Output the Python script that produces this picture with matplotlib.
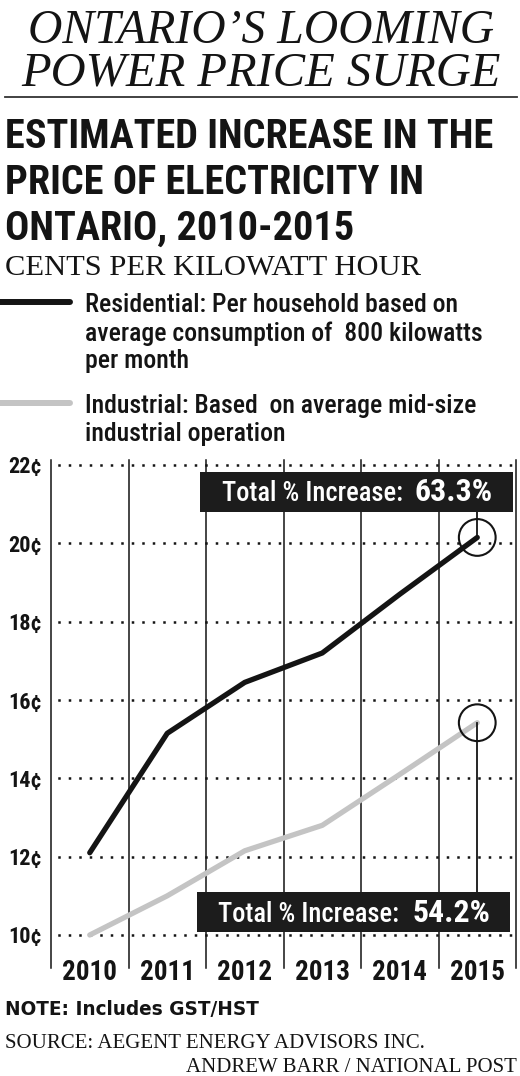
import matplotlib
matplotlib.use('Agg')
import matplotlib.pyplot as plt
from matplotlib import font_manager as fm
from matplotlib import transforms as mtrans
from matplotlib.patches import Rectangle
from matplotlib.lines import Line2D

# ---------------- data ----------------
years = ['2010', '2011', '2012', '2013', '2014', '2015']
residential = [12.1, 15.15, 16.45, 17.2, 18.7, 20.15]
industrial = [10.0, 11.0, 12.15, 12.8, 14.1, 15.42]
y_ticks = [10, 12, 14, 16, 18, 20, 22]
y_tick_labels = ['10¢', '12¢', '14¢', '16¢', '18¢', '20¢', '22¢']
res_increase = '63.3%'
ind_increase = '54.2%'

title_lines = ['ONTARIO’S LOOMING', 'POWER PRICE SURGE']
subtitle_lines = ['ESTIMATED INCREASE IN THE', 'PRICE OF ELECTRICITY IN', 'ONTARIO, 2010-2015']
unit_label = 'CENTS PER KILOWATT HOUR'
res_legend = ['Residential: Per household based on',
              'average consumption of  800 kilowatts',
              'per month']
ind_legend = ['Industrial: Based  on average mid-size',
              'industrial operation']
note_text = 'NOTE: Includes GST/HST'
source_text = 'SOURCE: AEGENT ENERGY ADVISORS INC.'
credit_text = 'ANDREW BARR / NATIONAL POST'

# ---------------- fonts ----------------
entries = fm.fontManager.ttflist
names = set(e.name for e in entries)
cond = None
cond_stretch = 'normal'
for c in ['Roboto Condensed', 'Liberation Sans Narrow', 'Open Sans Condensed',
          'Noto Sans Condensed', 'Noto Sans SemiCondensed', 'DejaVu Sans Condensed']:
    if c in names:
        cond = c
        break
if cond is None:
    for e in entries:
        if e.name in ('Noto Sans', 'DejaVu Sans', 'Open Sans', 'Roboto') and str(e.stretch) in ('condensed', 'semi-condensed'):
            cond = e.name
            cond_stretch = 'condensed'
            break
if cond is None:
    cond = 'Liberation Sans'
SERIF = 'Liberation Serif' if 'Liberation Serif' in names else 'DejaVu Serif'
COND = [cond, 'DejaVu Sans']

W, H = 520, 1076
fig = plt.figure(figsize=(W / 100, H / 100), dpi=100)
fig.patch.set_facecolor('white')
renderer = fig.canvas.get_renderer()
INK = '#141414'


def fx(x):
    return x / W


def fy(y):
    return 1 - y / H


def ptext(x, y, s, ha='left', va='baseline', **kw):
    return fig.text(fx(x), fy(y), s, ha=ha, va=va, color=kw.pop('color', INK), **kw)


def fit(t, width):
    t.set_fontsize(20)
    w = t.get_window_extent(renderer).width
    t.set_fontsize(20 * width / w)
    return t.get_fontsize()


# ---------------- header ----------------
t = ptext(261, 43, title_lines[0], ha='center', family=SERIF, style='italic')
fit(t, 466)
t = ptext(261, 85, title_lines[1], ha='center', family=SERIF, style='italic')
fit(t, 480)
fig.add_artist(Line2D([fx(5), fx(517)], [fy(97), fy(97)], transform=fig.transFigure,
                      lw=1.3, color='#333333'))

t = ptext(5, 148, subtitle_lines[0], family=COND, weight='bold', fontstretch=cond_stretch)
fs = fit(t, 490)
for i, s in enumerate(subtitle_lines[1:]):
    ptext(5, 194 + 46 * i, s, family=COND, weight='bold', fontstretch=cond_stretch, fontsize=fs)

t = ptext(5, 275, unit_label, family=SERIF)
fit(t, 415)

# legend
fig.add_artist(Line2D([fx(0), fx(70)], [fy(302), fy(302)], transform=fig.transFigure,
                      lw=4.3, color=INK, solid_capstyle='round'))
fig.add_artist(Line2D([fx(0), fx(70)], [fy(403), fy(403)], transform=fig.transFigure,
                      lw=4.3, color='#c4c4c4', solid_capstyle='round'))
LW = 'medium'
t = ptext(85, 341, res_legend[1], family=COND, weight=LW, fontstretch=cond_stretch)
lfs = fit(t, 398)
ptext(85, 312, res_legend[0], family=COND, weight=LW, fontstretch=cond_stretch, fontsize=lfs)
ptext(85, 368, res_legend[2], family=COND, weight=LW, fontstretch=cond_stretch, fontsize=lfs)
ptext(85, 413, ind_legend[0], family=COND, weight=LW, fontstretch=cond_stretch, fontsize=lfs)
ptext(85, 441, ind_legend[1], family=COND, weight=LW, fontstretch=cond_stretch, fontsize=lfs)

# ---------------- chart ----------------
ax_left, ax_right, ax_top, ax_bottom = 51, 516, 460, 968
ax = fig.add_axes([fx(ax_left), fy(ax_bottom), (ax_right - ax_left) / W, (ax_bottom - ax_top) / H])
ax.set_xlim(-0.5, len(years) - 0.5)
px_per_unit = (935 - 465) / 12.0
ax.set_ylim(10 - (968 - 935) / px_per_unit, 22 + (465 - 460) / px_per_unit)
ax.axis('off')

for v in y_ticks:
    ax.plot([-0.5, len(years) - 0.5], [v, v], color=INK, lw=1.8,
            linestyle=(1.5, (1, 3.2)), dash_capstyle='butt', zorder=1)
for i in range(len(years) + 1):
    ax.axvline(i - 0.5, color=INK, lw=1.1, zorder=1.5, clip_on=False)

xs = list(range(len(years)))
ax.plot(xs, industrial, color='#c4c4c4', lw=3.8, solid_capstyle='round',
        solid_joinstyle='round', zorder=3)
ax.plot(xs, residential, color=INK, lw=3.8, solid_capstyle='round',
        solid_joinstyle='round', zorder=4)

# circles + connectors
ax.scatter([xs[-1]], [residential[-1]], s=700, facecolors='none', edgecolors=INK,
           linewidths=1.5, zorder=5, clip_on=False)
ax.scatter([xs[-1]], [industrial[-1]], s=700, facecolors='none', edgecolors=INK,
           linewidths=1.5, zorder=5, clip_on=False)
top_box_bottom = 22 - (512 - 465) / px_per_unit
low_box_top = 10 + (935 - 892) / px_per_unit
ax.plot([xs[-1], xs[-1]], [residential[-1], top_box_bottom], color=INK, lw=1.3, zorder=5)
ax.plot([xs[-1], xs[-1]], [industrial[-1], low_box_top], color=INK, lw=1.3, zorder=5)

# tick labels
yt = mtrans.blended_transform_factory(fig.transFigure, ax.transData)
for v, lab in zip(y_ticks, y_tick_labels):
    ax.text(fx(42), v, lab, transform=yt, ha='right', va='center_baseline',
            family=COND, weight='bold', fontstretch=cond_stretch, color=INK,
            clip_on=False, fontsize=16)

xt = mtrans.blended_transform_factory(ax.transData, fig.transFigure)
for i, yr in enumerate(years):
    ax.text(i, fy(980), yr, transform=xt, ha='center', va='baseline',
            family=COND, weight='bold', fontstretch=cond_stretch, color=INK,
            clip_on=False, fontsize=19.5)

# annotation boxes
fig.add_artist(Rectangle((fx(200), fy(512)), (513 - 200) / W, (512 - 472) / H,
                         transform=fig.transFigure, facecolor='#1c1c1c', edgecolor='none', zorder=6))
fig.add_artist(Rectangle((fx(197), fy(932)), (510 - 197) / W, (932 - 892) / H,
                         transform=fig.transFigure, facecolor='#1c1c1c', edgecolor='none', zorder=6))
t = ptext(222, 501, 'Total % Increase:', family=COND, weight=LW, fontstretch=cond_stretch,
          color='white', zorder=7)
bfs = fit(t, 181)
t = ptext(493, 501, res_increase, ha='right', family=COND, weight='bold',
          fontstretch=cond_stretch, color='white', zorder=7)
fit(t, 78)
ptext(218, 922, 'Total % Increase:', family=COND, weight=LW, fontstretch=cond_stretch,
      color='white', zorder=7, fontsize=bfs)
t = ptext(490, 922, ind_increase, ha='right', family=COND, weight='bold',
          fontstretch=cond_stretch, color='white', zorder=7)
fit(t, 78)

# ---------------- footer ----------------
t = ptext(5, 1015, note_text, family='DejaVu Sans', weight='bold')
fit(t, 253)
t = ptext(5, 1048, source_text, family=SERIF)
sfs = fit(t, 420)
ptext(517, 1072, credit_text, ha='right', family=SERIF, fontsize=sfs)

fig.savefig('out.png', dpi=100, facecolor='white')
